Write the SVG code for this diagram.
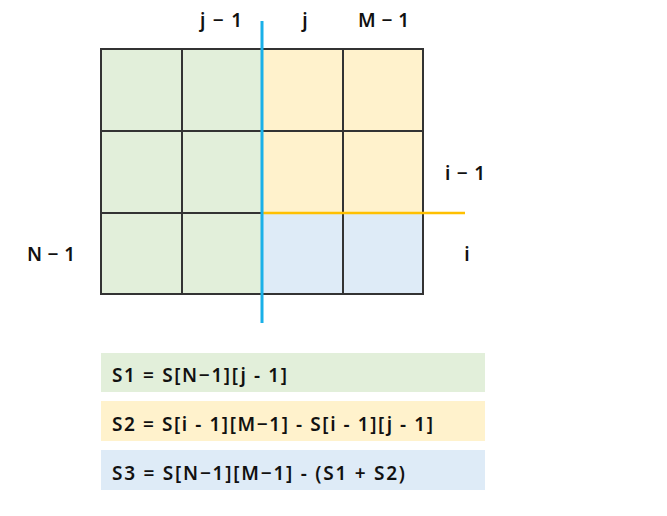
<svg xmlns="http://www.w3.org/2000/svg" width="667" height="516" viewBox="0 0 667 516">
<style>
.lbl{font-family:"Noto Sans","DejaVu Sans",sans-serif;font-size:19px;font-weight:600;fill:#111}
.cell{stroke:#333;stroke-width:2}
.g{fill:#e2efda}.y{fill:#fff2cc}.b{fill:#deebf7}
.f{font-family:"Noto Sans","DejaVu Sans",sans-serif;font-size:19px;font-weight:600;fill:#111}
</style>
<rect width="667" height="516" fill="#fff"/>
<g id="grid">
<rect class="cell g" x="101" y="49" width="81" height="82"/>
<rect class="cell g" x="182" y="49" width="80" height="82"/>
<rect class="cell y" x="262" y="49" width="81" height="82"/>
<rect class="cell y" x="343" y="49" width="80" height="82"/>
<rect class="cell g" x="101" y="131" width="81" height="82"/>
<rect class="cell g" x="182" y="131" width="80" height="82"/>
<rect class="cell y" x="262" y="131" width="81" height="82"/>
<rect class="cell y" x="343" y="131" width="80" height="82"/>
<rect class="cell g" x="101" y="213" width="81" height="81"/>
<rect class="cell g" x="182" y="213" width="80" height="81"/>
<rect class="cell b" x="262" y="213" width="81" height="81"/>
<rect class="cell b" x="343" y="213" width="80" height="81"/>
</g>
<g id="connectors">
<line x1="262" y1="213" x2="465" y2="213" stroke="#ffc000" stroke-width="2.5"/>
<line x1="262" y1="21" x2="262" y2="323" stroke="#1ab0e8" stroke-width="3"/>
</g>
<g id="labels">
<text class="lbl" x="200" y="27" textLength="42" lengthAdjust="spacing">j − 1</text>
<text class="lbl" x="305" y="27" text-anchor="middle">j</text>
<text class="lbl" x="358" y="27" textLength="51" lengthAdjust="spacing">M − 1</text>
<text class="lbl" x="445" y="180" textLength="40" lengthAdjust="spacing">i − 1</text>
<text class="lbl" x="467" y="261" text-anchor="middle">i</text>
<text class="lbl" x="27" y="261" textLength="48" lengthAdjust="spacing">N − 1</text>
</g>
<g id="s1">
<rect class="g" x="101" y="353" width="384" height="39"/>
<text class="f" x="112" y="382" textLength="175" lengthAdjust="spacing">S1 = S[N−1][j - 1]</text>
</g>
<g id="s2">
<rect class="y" x="101" y="401" width="384" height="40"/>
<text class="f" x="112" y="431" textLength="321" lengthAdjust="spacing">S2 = S[i - 1][M−1] - S[i - 1][j - 1]</text>
</g>
<g id="s3">
<rect class="b" x="101" y="450" width="384" height="40"/>
<text class="f" x="112" y="480" textLength="293" lengthAdjust="spacing">S3 = S[N−1][M−1] - (S1 + S2)</text>
</g>
</svg>
